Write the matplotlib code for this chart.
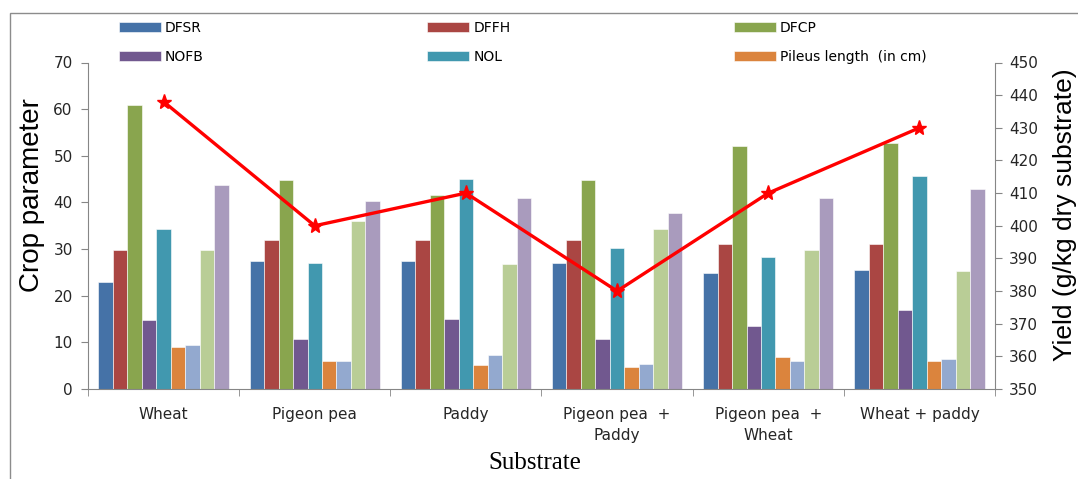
import matplotlib
matplotlib.use("Agg")
import matplotlib.pyplot as plt
from matplotlib.patches import Rectangle, Patch
import numpy as np

# substrates on the x axis
substrates = ["Wheat", "Pigeon pea", "Paddy", "Pigeon pea  +\nPaddy",
              "Pigeon pea  +\nWheat", "Wheat + paddy"]

# bar series (left axis)
dfsr   = [23.0, 27.5, 27.5, 27.1, 24.9, 25.5]
dffh   = [29.7, 32.0, 32.0, 32.0, 31.0, 31.0]
dfcp   = [60.8, 44.8, 41.6, 44.8, 52.1, 52.8]
nofb   = [14.7, 10.8, 15.0, 10.8, 13.4, 16.9]
nol    = [34.2, 27.1, 45.1, 30.3, 28.2, 45.7]
pileus = [8.9, 6.1, 5.1, 4.8, 6.9, 6.1]
extra1 = [9.5, 6.1, 7.3, 5.4, 6.1, 6.4]
extra2 = [29.7, 36.1, 26.8, 34.2, 29.7, 25.3]
extra3 = [43.8, 40.3, 40.9, 37.7, 40.9, 42.8]

# yield line (right axis)
yield_vals = [438, 400, 410, 380, 410, 430]

series = [dfsr, dffh, dfcp, nofb, nol, pileus, extra1, extra2, extra3]
names = ["DFSR", "DFFH", "DFCP", "NOFB", "NOL", "Pileus length  (in cm)", None, None, None]
colors = ["#4572A7", "#AA4643", "#89A54E", "#71588F", "#4198AF",
          "#DB843D", "#93A9CF", "#B9CD96", "#A99BBD"]

W, H = 1078, 479
fig = plt.figure(figsize=(W / 100, H / 100), dpi=100)
ax = fig.add_axes([88 / W, 1 - 389 / H, (995 - 88) / W, (389 - 62.5) / H])

x = np.arange(len(substrates))
bw = 0.0957
for i, s in enumerate(series):
    ax.bar(x + (i - 4) * bw, s, bw, color=colors[i], edgecolor="white", linewidth=0.4, zorder=2)

gray = "#868686"
ax.set_xlim(-0.5, len(substrates) - 0.5)
ax.set_ylim(0, 70)
ax.set_yticks(range(0, 71, 10))
ax.set_xticks(x)
ax.set_xticklabels(substrates, fontsize=11, color="#262626", linespacing=1.5)
ax.set_xticks(np.arange(-0.5, len(substrates), 1.0), minor=True)
ax.tick_params(axis="x", which="major", length=0, pad=13)
ax.tick_params(axis="x", which="minor", length=5, color=gray, direction="out")
ax.tick_params(axis="y", length=5, color=gray, labelsize=11, labelcolor="#262626", pad=6)
for sp in ["top", "right"]:
    ax.spines[sp].set_visible(False)
for sp in ["left", "bottom"]:
    ax.spines[sp].set_color(gray)

ax.set_ylabel("Crop parameter", fontsize=20, family="Liberation Sans")
ax.yaxis.set_label_coords(-0.062, 0.594)
ax.yaxis.label.set_va("center")
ax.set_xlabel("Substrate", fontsize=18, family="Liberation Serif")
ax.xaxis.set_label_coords(0.493, -0.228)
ax.xaxis.label.set_va("center")

ax2 = ax.twinx()
ax2.plot(x, yield_vals, color="#FF0000", linewidth=2.4, marker="*",
         markersize=11, markeredgecolor="#FF0000", zorder=5)
ax2.set_ylim(350, 450)
ax2.set_yticks(range(350, 451, 10))
ax2.tick_params(axis="y", length=5, color=gray, labelsize=11, labelcolor="#262626", pad=5)
for sp in ["top", "left", "bottom"]:
    ax2.spines[sp].set_visible(False)
ax2.spines["right"].set_color(gray)
ax2.set_ylabel("Yield (g/kg dry substrate)", fontsize=19, family="Liberation Sans")
ax2.yaxis.set_label_coords(1.0775, 0.533)
ax2.yaxis.label.set_va("center")

# legend: 3 columns, row-wise order
order = [0, 3, 1, 4, 2, 5]
handles = [Patch(facecolor=colors[i], edgecolor="white", linewidth=0.4) for i in order]
labels = [names[i] for i in order]
fig.legend(handles, labels, loc="upper left", bbox_to_anchor=(119 / W, 1 - 21 / H),
           ncol=3, frameon=False, fontsize=10, handlelength=3.0, handleheight=0.7,
           handletextpad=0.3, labelspacing=1.05, columnspacing=16.1,
           borderpad=0, borderaxespad=0)

# outer chart border
fig.add_artist(Rectangle((10 / W, -0.1), 1.2, 1.1 - 12.7 / H, transform=fig.transFigure,
                         fill=False, edgecolor="#8c8c8c", linewidth=1))

fig.savefig("out.png", dpi=100)
